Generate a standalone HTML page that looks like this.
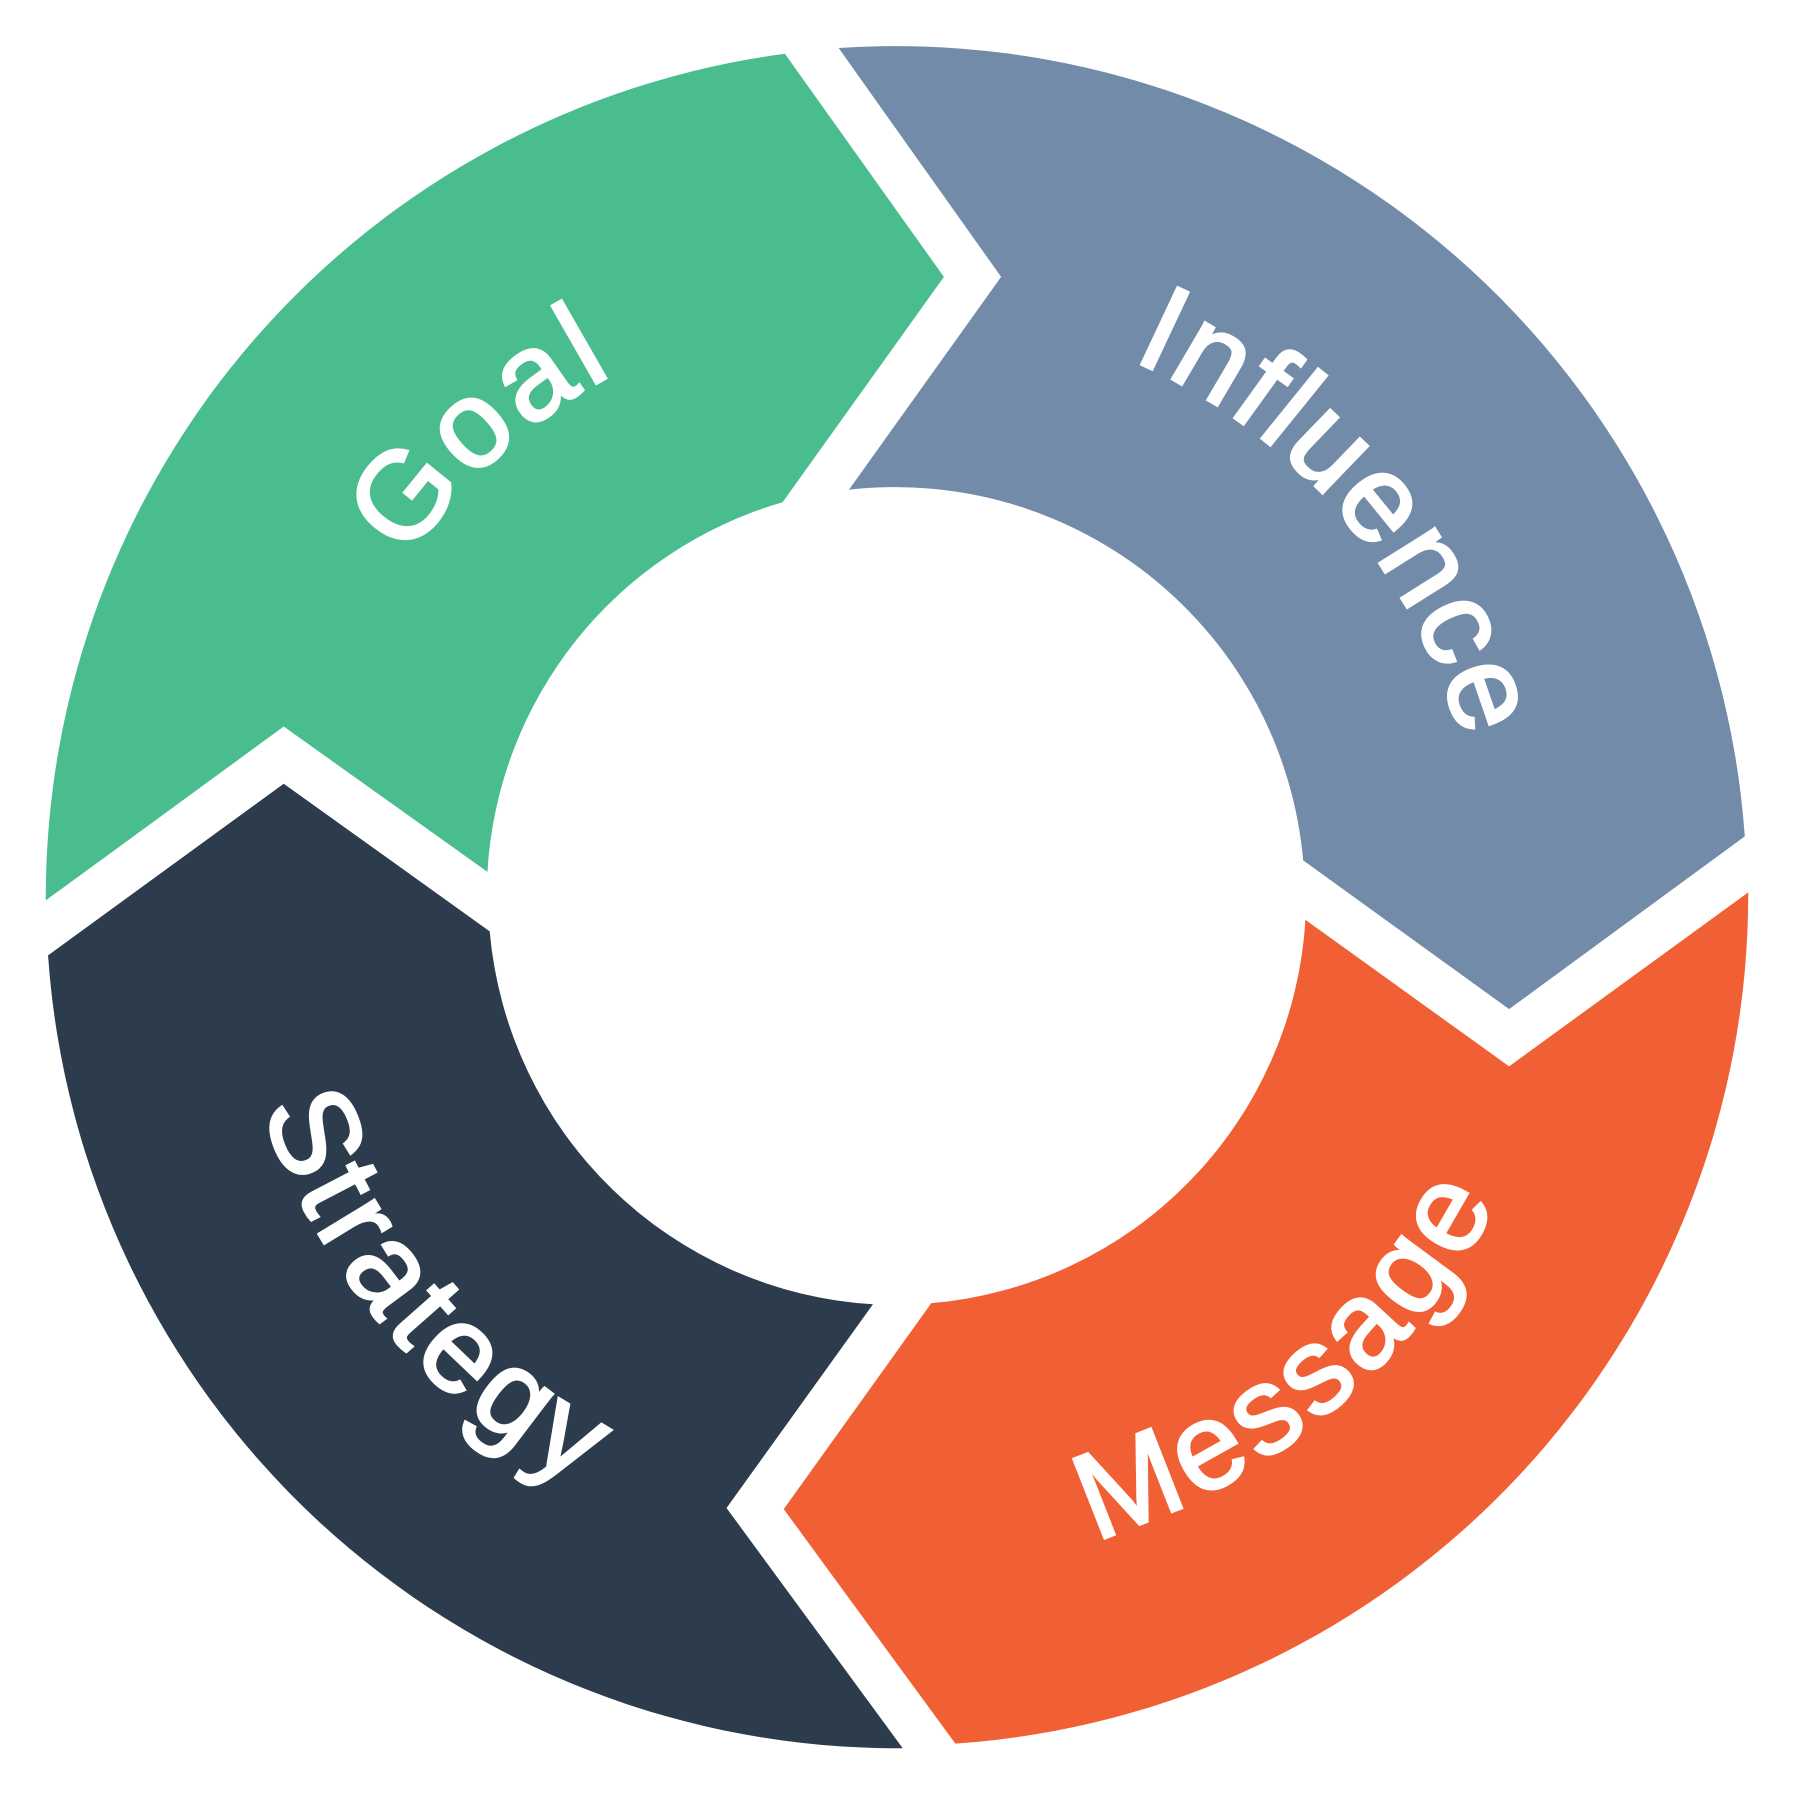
<!DOCTYPE html>
<html><head><style>html,body{margin:0;padding:0;background:#fff}svg{display:block}</style></head>
<body>
<svg width="1794" height="1794" viewBox="0 0 1568 1568" xmlns="http://www.w3.org/2000/svg">
<defs>
<path id="pg" d="M275.4,892.1 A520,520 0 0 1 944.7,289.5"/>
<path id="pi" d="M686.3,281.4 A512,512 0 0 1 1268.4,950.7"/>
<path id="pm" d="M582.9,1336.5 A588,588 0 0 0 1363.1,681.9"/>
<path id="ps" d="M234.3,583.9 A585,585 0 0 0 885.6,1360.1"/>
</defs>
<path fill="#4abd8f" d="M40,787 A744,744 0 0 1 686,47 L825,242 L684,439 A358,358 0 0 0 426,762 L248,635 Z"/>
<path fill="#728ba8" d="M733,42 A744,744 0 0 1 1525,731 L1319,882 L1139,752 A358,358 0 0 0 742,428 L875,242 Z"/>
<path fill="#f06034" d="M1528,780 A744,744 0 0 1 835,1524 L685,1319 L814,1139 A358,358 0 0 0 1141,804 L1319,932 Z"/>
<path fill="#2d3c4c" d="M789,1528 A744,744 0 0 1 42,835 L248,685 L428,814 A358,358 0 0 0 763,1140 L635,1318 Z"/>
<g fill="#fff" stroke="#fff" stroke-width="2.5" font-family="Liberation Sans, sans-serif" font-weight="normal" font-size="108">
<text><textPath href="#pg" startOffset="50%" text-anchor="middle" textLength="245" lengthAdjust="spacing">Goal</textPath></text>
<text><textPath href="#pi" startOffset="50%" text-anchor="middle" textLength="455" lengthAdjust="spacing">Influence</textPath></text>
<text><textPath href="#pm" startOffset="50%" text-anchor="middle" textLength="470" lengthAdjust="spacing">Message</textPath></text>
<text><textPath href="#ps" startOffset="50%" text-anchor="middle" textLength="440" lengthAdjust="spacing">Strategy</textPath></text>
</g>
</svg>
</body></html>
